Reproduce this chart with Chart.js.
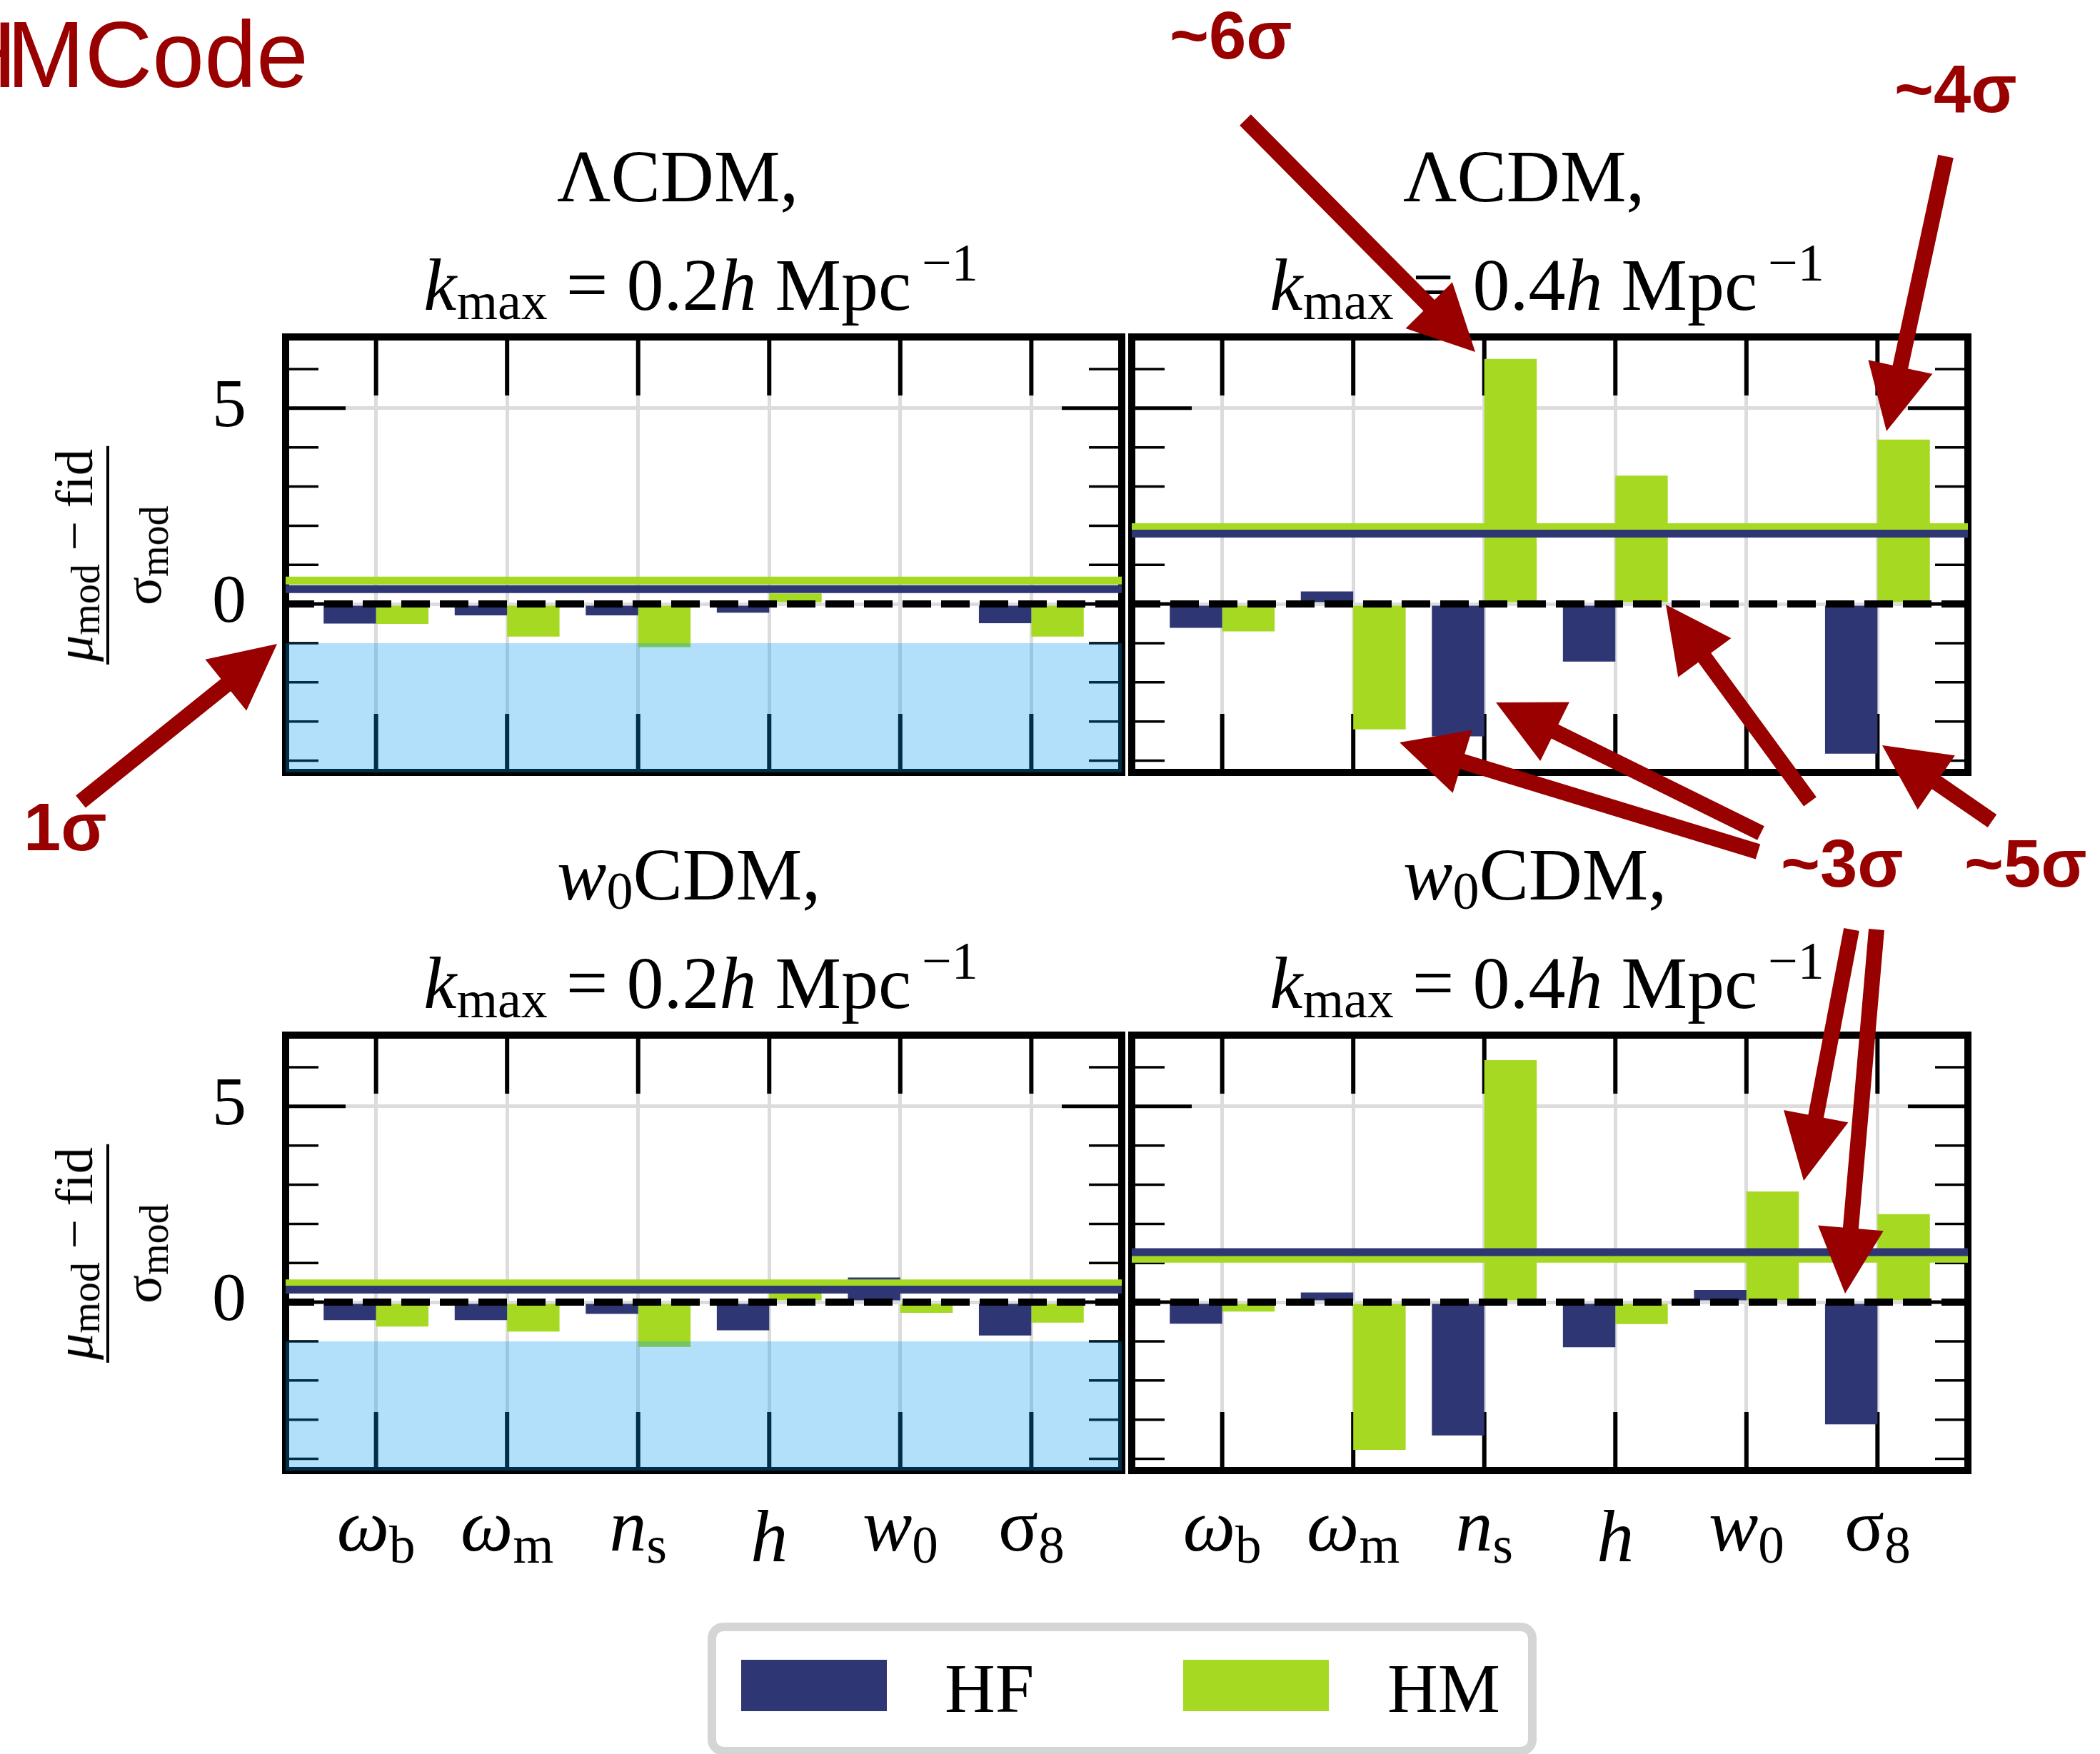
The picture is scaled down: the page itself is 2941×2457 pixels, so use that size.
<!DOCTYPE html>
<html>
<head>
<meta charset="utf-8">
<script src="https://cdn.jsdelivr.net/npm/chart.js@4.4.1/dist/chart.umd.min.js"></script>
<style>
  html, body { margin: 0; padding: 0; background: #fff; }
  #page { position: relative; width: 2941px; height: 2457px; overflow: hidden; background: #fff; }
  #page canvas { position: absolute; }
  .txt { position: absolute; white-space: nowrap; line-height: 1; }
  .serif { font-family: 'Liberation Serif', 'Times New Roman', serif; color: #000; }
  .sans { font-family: 'Liberation Sans', Arial, sans-serif; }
  .mark { font-weight: bold; color: #990000; }
  .sb { position: relative; font-size: 74px; top: 13px; }
  .sp { position: relative; font-size: 74px; top: -41px; }
  .sbx { position: relative; font-size: 73px; top: 17px; }
  .ylab { position: absolute; transform: translate(-50%, -50%) rotate(-90deg); font-size: 74px;
          line-height: 1; text-align: center; white-space: nowrap; }
  .ylab .num { border-bottom: 4px solid #000; padding: 0 4px 8px; }
  .ylab .den { padding-top: 10px; }
  .ylab .s { position: relative; font-size: 56px; top: 10px; }
  #legend { position: absolute; box-sizing: border-box; border: 12px solid #d5d5d5; border-radius: 22px; background: #fff; }
  .swatch { position: absolute; }
</style>
</head>
<body>
<div id="page"></div>
<script>
// -----------------------------
// Data
// -----------------------------
const paramSymbols = ['ω', 'ω', 'n', 'h', 'w', 'σ'];
const paramSubs = ['b', 'm', 's', '', '0', '8'];
const paramItalic = [true, true, true, true, true, false];

// (mu_mod - fid) / sigma_mod, one array per code and panel
const hfLcdm02 = [-0.50, -0.29, -0.29, -0.22, null, -0.49];
const hmLcdm02 = [-0.51, -0.83, -1.10, 0.27, null, -0.83];
const hfLcdm04 = [-0.61, 0.32, -3.38, -1.47, null, -3.82];
const hmLcdm04 = [-0.70, -3.20, 6.26, 3.28, null, 4.20];
const hfW0cdm02 = [-0.46, -0.46, -0.30, -0.72, 0.63, -0.85];
const hmW0cdm02 = [-0.62, -0.75, -1.14, 0.25, -0.27, -0.52];
const hfW0cdm04 = [-0.55, 0.25, -3.40, -1.15, 0.31, -3.12];
const hmW0cdm04 = [-0.24, -3.77, 6.18, -0.56, 2.83, 2.25];

// horizontal levels per panel: LCDM 0.2, LCDM 0.4, w0CDM 0.2, w0CDM 0.4
const hfLevel = [0.38, 1.80, 0.32, 1.28];
const hmLevel = [0.60, 1.96, 0.48, 1.11];

// upper edge of the shaded 1 sigma region (k_max = 0.2 panels)
const sigmaEdge = -1;

const yTickValues = [-4, -3, -2, -1, 0, 1, 2, 3, 4, 5, 6];
const yLabelValues = [0, 5];
const modelNames = ['ΛCDM,', '<i>w</i><span class="sb">0</span>CDM,'];
const kmaxValues = ['0.2', '0.4'];
const seriesNames = ['HF', 'HM'];

// -----------------------------
// Styles and layout
// -----------------------------
const HF_COLOR = '#2f3674';
const HM_COLOR = '#a6da22';
const BAND_COLOR = 'rgba(0,150,240,0.3)';
const GRID_COLOR = '#dcdcdc';
const MARK_COLOR = '#990000';

const X_MIN = -0.69, X_MAX = 5.69;
const Y_MIN = -4.3, Y_MAX = 6.82;

const PANEL_LEFT = [400, 1585];
const PANEL_TOP = [472, 1450];
const PANEL_W = 1171, PANEL_H = 610;
const AXIS_W = 160, PAD = 40;

const page = document.getElementById('page');

function addText(html, x, baseline, size, cls, align) {
    const el = document.createElement('div');
    el.className = 'txt ' + cls;
    el.innerHTML = html;
    el.style.fontSize = size + 'px';
    const asc = cls.includes('sans') ? 0.8465 : 0.8375;
    el.style.top = (baseline - asc * size) + 'px';
    el.style.left = x + 'px';
    if (align === 'center') el.style.transform = 'translateX(-50%)';
    page.appendChild(el);
    return el;
}

// -----------------------------
// Frame with inward ticks
// -----------------------------
const frameTicks = {
    id: 'frameTicks',
    beforeDatasetsDraw(chart) {
        const { ctx, chartArea: a, scales: { x, y } } = chart;
        const seg = (x0, y0, x1, y1) => { ctx.beginPath(); ctx.moveTo(x0, y0); ctx.lineTo(x1, y1); ctx.stroke(); };
        ctx.save();
        ctx.strokeStyle = '#000';
        ctx.lineCap = 'butt';
        yTickValues.forEach(v => {
            const py = y.getPixelForValue(v);
            const major = yLabelValues.includes(v);
            const len = major ? 84 : 46;
            ctx.lineWidth = major ? 5 : 3.5;
            seg(a.left, py, a.left + len, py);
            seg(a.right - len, py, a.right, py);
        });
        ctx.lineWidth = 6;
        paramSymbols.forEach((_, i) => {
            const px = x.getPixelForValue(i);
            seg(px, a.top, px, a.top + 82);
            seg(px, a.bottom - 82, px, a.bottom);
        });
        ctx.lineWidth = 10;
        ctx.strokeRect(a.left, a.top, a.right - a.left, a.bottom - a.top);
        ctx.restore();
    }
};

// -----------------------------
// One panel
// -----------------------------
function buildPanel(col, row, hf, hm) {
    const idx = row * 2 + col;
    const canvas = document.createElement('canvas');
    canvas.width = AXIS_W + PANEL_W + PAD;
    canvas.height = PANEL_H + 2 * PAD;
    const left = PANEL_LEFT[col] - AXIS_W;
    const top = PANEL_TOP[row] - PAD;
    canvas.style.left = left + 'px';
    canvas.style.top = top + 'px';
    canvas.style.width = canvas.width + 'px';
    canvas.style.height = canvas.height + 'px';
    page.appendChild(canvas);

    const flat = v => [{ x: X_MIN, y: v }, { x: X_MAX, y: v }];
    const datasets = [
        { type: 'bar', label: seriesNames[0], data: hf.map((v, i) => ({ x: i, y: v })), backgroundColor: HF_COLOR, order: 0 },
        { type: 'bar', label: seriesNames[1], data: hm.map((v, i) => ({ x: i, y: v })), backgroundColor: HM_COLOR, order: 0 },
        { type: 'line', data: flat(hmLevel[idx]), borderColor: HM_COLOR, borderWidth: 11, order: -2 },
        { type: 'line', data: flat(hfLevel[idx]), borderColor: HF_COLOR, borderWidth: 11, order: -3 },
        { type: 'line', data: flat(0), borderColor: '#000', borderWidth: 10, borderDash: [40, 14], order: -5 }
    ];
    if (col === 0) {
        datasets.push({ type: 'line', data: flat(sigmaEdge), borderColor: 'rgba(0,0,0,0)', borderWidth: 0,
                        backgroundColor: BAND_COLOR, fill: 'start', order: -10 });
    }

    const chart = new Chart(canvas.getContext('2d'), {
        type: 'bar',
        data: { datasets },
        options: {
            responsive: false,
            animation: false,
            devicePixelRatio: 1,
            events: [],
            layout: { padding: { left: 0, right: PAD, top: PAD, bottom: PAD } },
            datasets: { bar: { categoryPercentage: 0.8, barPercentage: 1, borderWidth: 0 } },
            elements: { point: { radius: 0 }, line: { tension: 0, borderCapStyle: 'butt', fill: false } },
            plugins: { legend: { display: false }, tooltip: { enabled: false } },
            scales: {
                x: {
                    type: 'linear', min: X_MIN, max: X_MAX, offset: false,
                    afterBuildTicks: s => { s.ticks = paramSymbols.map((_, i) => ({ value: i })); },
                    afterFit: s => { s.height = 0; s.paddingLeft = 0; s.paddingRight = 0; },
                    ticks: { display: false },
                    grid: { color: GRID_COLOR, lineWidth: 5, drawTicks: false, offset: false },
                    border: { display: false }
                },
                y: {
                    type: 'linear', min: Y_MIN, max: Y_MAX,
                    afterBuildTicks: s => { s.ticks = yTickValues.map(v => ({ value: v })); },
                    afterFit: s => { s.width = AXIS_W; s.paddingTop = 0; s.paddingBottom = 0; },
                    ticks: {
                        display: col === 0, autoSkip: false, padding: 55, color: '#000',
                        font: { family: 'Liberation Serif', size: 96 },
                        callback: v => yLabelValues.includes(v) ? String(v) : ''
                    },
                    grid: {
                        color: c => (c.tick && yLabelValues.includes(c.tick.value)) ? GRID_COLOR : 'rgba(0,0,0,0)',
                        lineWidth: 5, drawTicks: false
                    },
                    border: { display: false }
                }
            }
        },
        plugins: [frameTicks]
    });

    // titles
    const titleLeft = PANEL_LEFT[col] + 380;
    const titleCenter = PANEL_LEFT[col] + PANEL_W / 2 - 4;
    const base1 = PANEL_TOP[row] - 190;
    addText(modelNames[row], titleLeft, base1, 104, 'serif', 'left');
    addText('<i>k</i><span class="sb">max</span> = ' + kmaxValues[col] +
            '<i>h</i> Mpc<span class="sp">&#8201;−1</span>', titleCenter, base1 + 152, 104, 'serif', 'center');

    // y label on the left column
    if (col === 0) {
        const el = document.createElement('div');
        el.className = 'ylab serif';
        el.innerHTML = '<div class="num"><i>μ</i><span class="s">mod</span> − fid</div>' +
                       '<div class="den">σ<span class="s">mod</span></div>';
        el.style.left = '152px';
        el.style.top = (PANEL_TOP[row] + 306) + 'px';
        page.appendChild(el);
    }

    // parameter names under the bottom row
    if (row === 1) {
        paramSymbols.forEach((sym, i) => {
            const px = left + chart.scales.x.getPixelForValue(i);
            const main = paramItalic[i] ? '<i>' + sym + '</i>' : sym;
            const sub = paramSubs[i] ? '<span class="sbx">' + paramSubs[i] + '</span>' : '';
            const base = paramSubs[i] ? 2172 : 2187;
            addText(main + sub, px, base, 104, 'serif', 'center');
        });
    }
    return chart;
}

buildPanel(0, 0, hfLcdm02, hmLcdm02);
buildPanel(1, 0, hfLcdm04, hmLcdm04);
buildPanel(0, 1, hfW0cdm02, hmW0cdm02);
buildPanel(1, 1, hfW0cdm04, hmW0cdm04);

// -----------------------------
// Legend
// -----------------------------
const legend = document.createElement('div');
legend.id = 'legend';
legend.style.left = '991px';
legend.style.top = '2273px';
legend.style.width = '1161px';
legend.style.height = '186px';
page.appendChild(legend);
[[1038, HF_COLOR, 1323], [1657, HM_COLOR, 1943]].forEach(([sx, color, tx], k) => {
    const sw = document.createElement('div');
    sw.className = 'swatch';
    sw.style.cssText = `left:${sx}px;top:2325px;width:204px;height:72px;background:${color};`;
    page.appendChild(sw);
    addText(seriesNames[k], tx, 2398, 98, 'serif', 'left');
});

// -----------------------------
// Code name and arrows
// -----------------------------
addText('<span style="letter-spacing:-14px">H</span>MCode', -71, 122, 131, 'sans', 'left').style.color = MARK_COLOR;

const arrows = [
    { tail: [113, 1123], tip: [388, 902] },
    { tail: [1744, 168], tip: [2066, 493] },
    { tail: [2725, 219], tip: [2642, 604] },
    { tail: [2462, 1193], tip: [1960, 1040] },
    { tail: [2466, 1167], tip: [2095, 984] },
    { tail: [2535, 1123], tip: [2333, 847] },
    { tail: [2593, 1302], tip: [2526, 1654] },
    { tail: [2628, 1302], tip: [2584, 1812] },
    { tail: [2790, 1150], tip: [2636, 1044] }
];
const arrowLabels = [
    { text: '1σ', x: 33, base: 1192 },
    { text: '~6σ', x: 1638, base: 83 },
    { text: '~4σ', x: 2653, base: 158 },
    { text: '~3σ', x: 2494, base: 1243 },
    { text: '~5σ', x: 2751, base: 1243 }
];

const overlay = document.createElement('canvas');
overlay.width = 2941;
overlay.height = 2457;
overlay.style.left = '0px';
overlay.style.top = '0px';
page.appendChild(overlay);
const octx = overlay.getContext('2d');
octx.fillStyle = MARK_COLOR;
arrows.forEach(({ tail: [x0, y0], tip: [x1, y1] }) => {
    const len = Math.hypot(x1 - x0, y1 - y0);
    const ux = (x1 - x0) / len, uy = (y1 - y0) / len;
    const nx = -uy, ny = ux;
    const hl = 92, hw = 46, sw = 11;
    const bx = x1 - ux * hl, by = y1 - uy * hl;
    octx.beginPath();
    octx.moveTo(x0 + nx * sw, y0 + ny * sw);
    octx.lineTo(bx + nx * sw, by + ny * sw);
    octx.lineTo(bx + nx * hw, by + ny * hw);
    octx.lineTo(x1, y1);
    octx.lineTo(bx - nx * hw, by - ny * hw);
    octx.lineTo(bx - nx * sw, by - ny * sw);
    octx.lineTo(x0 - nx * sw, y0 - ny * sw);
    octx.closePath();
    octx.fill();
});
arrowLabels.forEach(l => addText(l.text, l.x, l.base, 94, 'sans mark', 'left'));
</script>
</body>
</html>
